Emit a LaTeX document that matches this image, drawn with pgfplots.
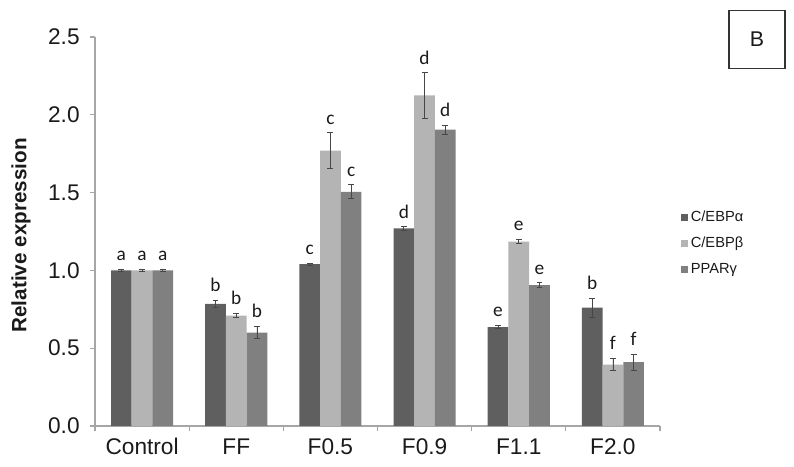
\documentclass[border=0pt]{standalone}
\usepackage{fontspec}
\setmainfont{Liberation Sans}
\newfontfamily\calib{Carlito}
\usepackage{pgfplots}
\pgfplotsset{compat=1.18}
\definecolor{ca}{HTML}{5F5F5F}
\definecolor{cb}{HTML}{B4B4B4}
\definecolor{cc}{HTML}{808080}
\definecolor{axg}{HTML}{A6A6A6}
\definecolor{txt}{HTML}{1A1A1A}
\begin{document}
\begin{tikzpicture}
\path[use as bounding box] (0,0) rectangle (595.5pt,350.25pt);
\begin{axis}[
  at={(71.25pt,30.75pt)}, anchor=south west,
  scale only axis, width=423.75pt, height=291.75pt,
  xmin=-0.5, xmax=5.5, ymin=0, ymax=2.5,
  axis x line*=bottom, axis y line*=left,
  axis line style={draw=axg, line width=0.8pt, -},
  xtick={0,...,5}, xticklabels={Control,FF,F0.5,F0.9,F1.1,F2.0},
  major x tick style={draw=none},
  minor xtick={-0.5,0.5,1.5,2.5,3.5,4.5,5.5},
  minor x tick style={draw=axg, line width=0.8pt},
  ytick={0,0.5,1,1.5,2,2.5},
  y tick style={draw=axg, line width=0.8pt},
  tick align=outside,
  major tick length=4pt, minor tick length=4pt,
  /pgf/number format/assume math mode=true,
  yticklabel style={/pgf/number format/fixed, /pgf/number format/fixed zerofill, /pgf/number format/precision=1, xshift=-4pt},
  tick label style={font=\fontsize{17}{20}\selectfont, text=txt},
  xticklabel style={yshift=-1pt, text height=12.5pt, text depth=3.5pt},
  ylabel={Relative expression},
  every axis y label/.style={at={(rel axis cs:-0.131,0.49)}, rotate=90, anchor=center, font=\bfseries\fontsize{15.5}{18}\selectfont, text=txt},
  ybar, bar width=0.22,
  legend style={at={(1.03,0.47)}, anchor=west, draw=none, fill=none,
    font=\fontsize{11}{12}\selectfont, row sep=6pt, text=txt},
  legend cell align=left,
  legend image code/.code={\fill[#1] (0pt,-2.6pt) rectangle (5.2pt,2.6pt);},
  error bars/error bar style={color=black!72, line width=0.6pt},
  error bars/error mark options={rotate=90, mark size=2.2pt, color=black!72, line width=0.6pt},
]
\addplot[ybar, bar shift=-0.22, fill=ca, draw=none,
  error bars/.cd, y dir=both, y explicit]
  coordinates {(0,1.0) +- (0,0.005) (1,0.785) +- (0,0.025) (2,1.04) +- (0,0.008)
               (3,1.27) +- (0,0.01) (4,0.635) +- (0,0.01) (5,0.76) +- (0,0.06)};
\addlegendentry{C/EBPα}
\addplot[ybar, bar shift=0, fill=cb, draw=none,
  error bars/.cd, y dir=both, y explicit]
  coordinates {(0,1.0) +- (0,0.005) (1,0.71) +- (0,0.015) (2,1.77) +- (0,0.115)
               (3,2.125) +- (0,0.145) (4,1.185) +- (0,0.013) (5,0.395) +- (0,0.04)};
\addlegendentry{C/EBPβ}
\addplot[ybar, bar shift=0.22, fill=cc, draw=none,
  error bars/.cd, y dir=both, y explicit]
  coordinates {(0,1.0) +- (0,0.005) (1,0.60) +- (0,0.04) (2,1.505) +- (0,0.045)
               (3,1.905) +- (0,0.03) (4,0.905) +- (0,0.015) (5,0.41) +- (0,0.05)};
\addlegendentry{PPARγ}
\begin{scope}[every node/.style={font=\calib\fontsize{14.5}{16}\selectfont, anchor=base, yshift=6.5pt, text=txt}]
\node at (axis cs:-0.22,1.005) {a};
\node at (axis cs:0,1.005) {a};
\node at (axis cs:0.22,1.005) {a};
\node at (axis cs:0.78,0.81) {b};
\node at (axis cs:1,0.725) {b};
\node at (axis cs:1.22,0.64) {b};
\node at (axis cs:1.78,1.048) {c};
\node at (axis cs:2,1.885) {c};
\node at (axis cs:2.22,1.55) {c};
\node at (axis cs:2.78,1.28) {d};
\node at (axis cs:3,2.27) {d};
\node at (axis cs:3.22,1.935) {d};
\node at (axis cs:3.78,0.645) {e};
\node at (axis cs:4,1.198) {e};
\node at (axis cs:4.22,0.92) {e};
\node at (axis cs:4.78,0.82) {b};
\node at (axis cs:5,0.435) {f};
\node at (axis cs:5.22,0.46) {f};
\end{scope}
\end{axis}
\node[draw=black!80, line width=0.8pt, minimum width=42pt, minimum height=44pt,
  font=\fontsize{16}{18}\selectfont, text=txt] at (567.75pt,320.6pt) {B};
\end{tikzpicture}
\end{document}
